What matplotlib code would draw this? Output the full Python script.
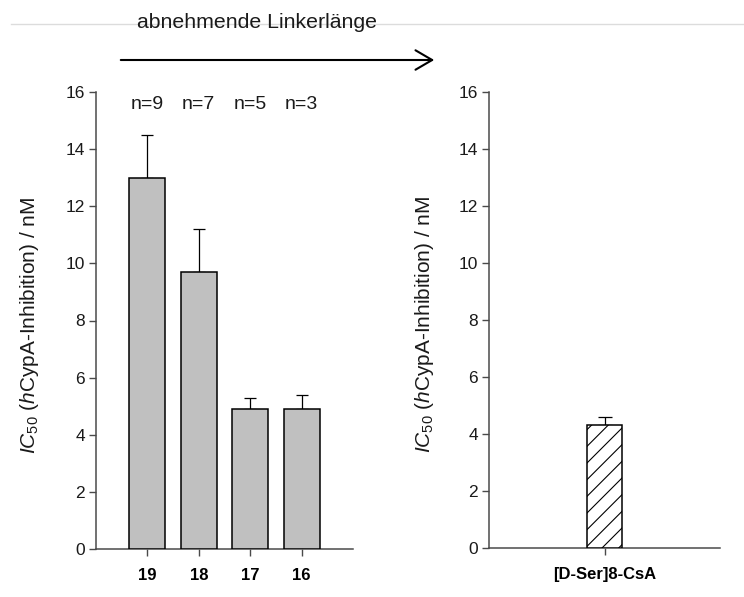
import matplotlib
matplotlib.use("Agg")
import matplotlib.pyplot as plt
from matplotlib.patches import FancyArrowPatch
from matplotlib.lines import Line2D

plt.rcParams['font.family'] = ['Liberation Sans', 'DejaVu Sans']
plt.rcParams['mathtext.fontset'] = 'custom'
plt.rcParams['mathtext.rm'] = 'Liberation Sans'
plt.rcParams['mathtext.it'] = 'Liberation Sans:italic'
plt.rcParams['hatch.linewidth'] = 0.8
plt.rcParams['hatch.color'] = '#333333'

# Linker series (decreasing linker length)
linker_labels = ['19', '18', '17', '16']
linker_ic50 = [13.0, 9.7, 4.9, 4.9]
linker_err = [1.5, 1.5, 0.4, 0.5]
linker_n = ['n=9', 'n=7', 'n=5', 'n=3']

# Reference compound
ref_labels = ['[D-Ser]8-CsA']
ref_ic50 = [4.3]
ref_err = [0.3]

yticks = [0, 2, 4, 6, 8, 10, 12, 14, 16]
ylabel = r'$\mathit{IC}_{50}$ ($\mathit{h}$CypA-Inhibition) / nM'
top_text = 'abnehmende Linkerlänge'

W, H = 744, 597
fig = plt.figure(figsize=(W / 100, H / 100), dpi=100)

spine_col = '#4a4a4a'


def style_axes(ax):
    for s in ('top', 'right'):
        ax.spines[s].set_visible(False)
    for s in ('left', 'bottom'):
        ax.spines[s].set_color(spine_col)
        ax.spines[s].set_linewidth(1.1)
    ax.set_ylim(0, 16)
    ax.set_yticks(yticks)
    ax.tick_params(axis='y', direction='out', length=5, width=1, color=spine_col,
                   labelsize=12.5, labelcolor='#1a1a1a', pad=3)
    ax.tick_params(axis='x', direction='out', length=5, width=1, color=spine_col,
                   labelsize=12, pad=9)
    ax.set_ylabel(ylabel, fontsize=15, color='#1a1a1a', labelpad=14)


def frac(x0, y0, x1, y1):
    return [x0 / W, 1 - y1 / H, (x1 - x0) / W, (y1 - y0) / H]


# Left panel
ax1 = fig.add_axes(frac(96, 92, 353, 549))
xs = list(range(len(linker_labels)))
ax1.bar(xs, linker_ic50, width=0.7, color='#c0c0c0', edgecolor='black',
        linewidth=1.1, zorder=3)
ax1.errorbar(xs, linker_ic50, yerr=[[0] * len(xs), linker_err], fmt='none',
             ecolor='black', elinewidth=0.9, capsize=4.5, capthick=0.9, zorder=2)
ax1.set_xlim(-1.0, 4.0)
ax1.set_xticks(xs)
ax1.set_xticklabels(linker_labels, fontweight='bold')
for x, t in zip(xs, linker_n):
    ax1.text(x, 15.55, t, ha='center', va='center', fontsize=14, color='#1a1a1a')
style_axes(ax1)
ax1.yaxis.set_label_coords(-0.214, 0.49)

# Right panel
ax2 = fig.add_axes(frac(489, 92, 720, 548))
ax2.bar([0], ref_ic50, width=0.30, color='white', edgecolor='black',
        linewidth=1.1, hatch='//', zorder=3)
ax2.errorbar([0], ref_ic50, yerr=[[0], ref_err], fmt='none', ecolor='black',
             elinewidth=0.9, capsize=5, capthick=0.9, zorder=2)
ax2.set_xlim(-1.0, 1.0)
ax2.set_xticks([0])
ax2.set_xticklabels(ref_labels, fontweight='bold', fontsize=11)
style_axes(ax2)
ax2.yaxis.set_label_coords(-0.229, 0.49)

# Thin light rule across the top
fig.add_artist(Line2D([11 / W, 1.0], [1 - 24 / H, 1 - 24 / H], color='#dcdcdc',
                      linewidth=1, transform=fig.transFigure))

# Heading and arrow
fig.text(257 / W, 1 - 23 / H, top_text, ha='center', va='center', fontsize=15.3,
         color='#1a1a1a')
arrow = FancyArrowPatch((118 / W, 1 - 60 / H), (437 / W, 1 - 60 / H),
                        transform=fig.transFigure,
                        arrowstyle='->,head_length=0.6,head_width=0.35',
                        mutation_scale=20, linewidth=1.5, color='black')
fig.add_artist(arrow)

fig.savefig('out.png', dpi=100, facecolor='white')
